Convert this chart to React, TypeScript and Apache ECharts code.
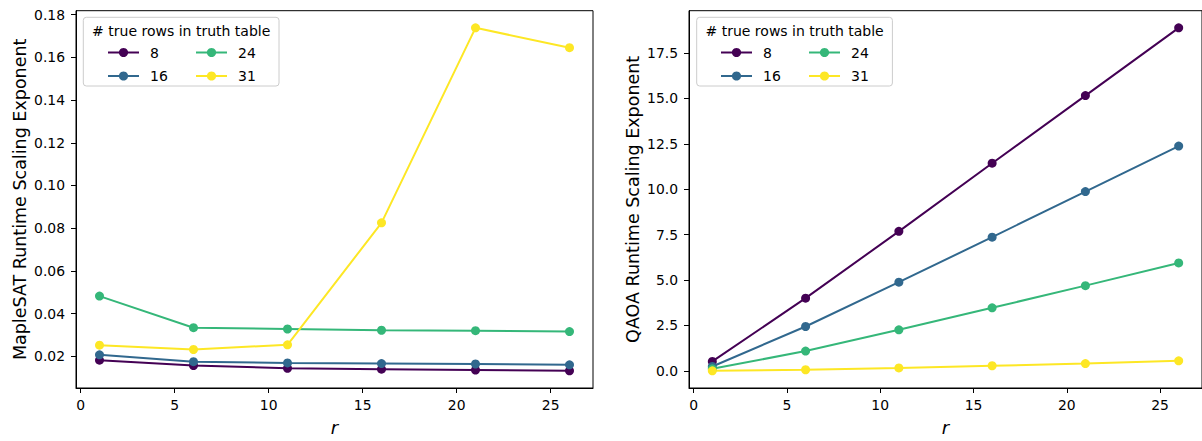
import React, { useEffect, useRef } from "react";
import * as echarts from "echarts";

const FONT = "DejaVu Sans";

const rValues = [1, 6, 11, 16, 21, 26];
const seriesNames = ["8", "16", "24", "31"];
const colors = ["#440154", "#31688e", "#35b779", "#fde725"];

const maple8 = [0.0182, 0.0157, 0.0144, 0.014, 0.0136, 0.0132];
const maple16 = [0.0207, 0.0175, 0.0169, 0.0166, 0.0164, 0.016];
const maple24 = [0.0482, 0.0334, 0.0328, 0.0322, 0.032, 0.0316];
const maple31 = [0.0252, 0.0232, 0.0254, 0.0825, 0.1738, 0.1645];

const qaoa8 = [0.52, 4.0, 7.68, 11.43, 15.15, 18.88];
const qaoa16 = [0.24, 2.44, 4.88, 7.36, 9.87, 12.37];
const qaoa24 = [0.11, 1.09, 2.26, 3.47, 4.69, 5.94];
const qaoa31 = [0.0, 0.06, 0.16, 0.28, 0.4, 0.55];

const xTicks = [0, 5, 10, 15, 20, 25];
const mapleTicks = [0.02, 0.04, 0.06, 0.08, 0.1, 0.12, 0.14, 0.16, 0.18];
const qaoaTicks = [0, 2.5, 5, 7.5, 10, 12.5, 15, 17.5];

const legendTitle = "# true rows in truth table";
const xName = "r";
const mapleName = "MapleSAT Runtime Scaling Exponent";
const qaoaName = "QAOA Runtime Scaling Exponent";

function padRange(vals: number[]): [number, number] {
  const lo = Math.min(...vals);
  const hi = Math.max(...vals);
  const m = (hi - lo) * 0.05;
  return [lo - m, hi + m];
}

export default function App() {
  const ref = useRef<HTMLDivElement>(null);
  useEffect(() => {
    if (!ref.current) return;
    const chart = echarts.init(ref.current, undefined, { renderer: "svg" });
    const mapleSets = [maple8, maple16, maple24, maple31];
    const qaoaSets = [qaoa8, qaoa16, qaoa24, qaoa31];
    const [xMin, xMax] = padRange(rValues);
    const [mMin, mMax] = padRange(mapleSets.flat());
    const [qMin, qMax] = padRange(qaoaSets.flat());

    const xAxisBase = (gridIndex: number) => ({
      type: "value",
      gridIndex,
      min: xMin,
      max: xMax,
      name: xName,
      nameLocation: "middle",
      nameGap: 30,
      nameTextStyle: { fontSize: 18, fontStyle: "italic", color: "#000", fontFamily: FONT },
      axisLine: { show: true, onZero: false, lineStyle: { color: "#000", width: 1 } },
      axisTick: { show: true, length: 5, inside: false, customValues: xTicks, lineStyle: { color: "#000", width: 1 } },
      axisLabel: { customValues: xTicks, margin: 10, fontSize: 13.9, color: "#000", fontFamily: FONT },
      splitLine: { show: false },
    });

    const yAxisBase = (gridIndex: number, min: number, max: number, ticks: number[], name: string, dec: number) => ({
      type: "value",
      gridIndex,
      min,
      max,
      name,
      nameLocation: "middle",
      nameGap: 47,
      nameTextStyle: { fontSize: 17.5, color: "#000", fontFamily: FONT },
      axisLine: { show: true, onZero: false, lineStyle: { color: "#000", width: 1 } },
      axisTick: { show: true, length: 5, inside: false, customValues: ticks, lineStyle: { color: "#000", width: 1 } },
      axisLabel: {
        customValues: ticks,
        margin: 11,
        fontSize: 13.9,
        color: "#000",
        fontFamily: FONT,
        formatter: (v: number) => v.toFixed(dec),
      },
      splitLine: { show: false },
    });

    const series: any[] = [];
    mapleSets.forEach((vals, i) => {
      series.push({
        type: "line",
        name: seriesNames[i],
        xAxisIndex: 0,
        yAxisIndex: 0,
        data: rValues.map((r, j) => [r, vals[j]]),
        symbol: "circle",
        symbolSize: 9,
        lineStyle: { color: colors[i], width: 2 },
        itemStyle: { color: colors[i] },
        emphasis: { disabled: true },
      });
    });
    qaoaSets.forEach((vals, i) => {
      series.push({
        type: "line",
        name: seriesNames[i],
        xAxisIndex: 1,
        yAxisIndex: 1,
        data: rValues.map((r, j) => [r, vals[j]]),
        symbol: "circle",
        symbolSize: 9,
        lineStyle: { color: colors[i], width: 2 },
        itemStyle: { color: colors[i] },
        emphasis: { disabled: true },
      });
    });

    const legendBase = {
      orient: "vertical",
      itemWidth: 31,
      itemHeight: 11.5,
      itemGap: 9.5,
      padding: 0,
      z: 20,
      selectedMode: false,
      textStyle: { fontSize: 14, color: "#000", fontFamily: FONT, padding: [0, 0, 0, 6], lineHeight: 11.5 },
    };

    const legendBox = (x: number) => [
      {
        type: "rect",
        z: 15,
        shape: { x, y: 17.3, width: 195.7, height: 68.7, r: 3 },
        style: { fill: "rgba(255,255,255,0.8)", stroke: "#cccccc", lineWidth: 1 },
      },
      {
        type: "text",
        z: 16,
        style: {
          text: legendTitle,
          x: x + 97.9,
          y: 30.5,
          align: "center",
          verticalAlign: "middle",
          fontSize: 14,
          fontFamily: FONT,
          fill: "#000",
        },
      },
    ];

    chart.setOption({
      animation: false,
      backgroundColor: "#fff",
      textStyle: { fontFamily: FONT },
      grid: [
        { left: 76, top: 10.7, width: 517, height: 385.3, show: true, borderColor: "#000", borderWidth: 1, containLabel: false },
        { left: 689, top: 10.7, width: 517, height: 385.3, show: true, borderColor: "#000", borderWidth: 1, containLabel: false },
      ],
      xAxis: [xAxisBase(0), xAxisBase(1)],
      yAxis: [
        yAxisBase(0, mMin, mMax, mapleTicks, mapleName, 2),
        yAxisBase(1, qMin, qMax, qaoaTicks, qaoaName, 1),
      ],
      legend: [
        { ...legendBase, left: 107, top: 45.5, data: ["8", "16"] },
        { ...legendBase, left: 195, top: 45.5, data: ["24", "31"] },
        { ...legendBase, left: 720, top: 45.5, data: ["8", "16"] },
        { ...legendBase, left: 808, top: 45.5, data: ["24", "31"] },
      ],
      graphic: [...legendBox(83.3), ...legendBox(696.7)],
      series,
    } as any);
    return () => chart.dispose();
  }, []);
  return (
    <div
      ref={ref}
      style={{ position: "fixed", left: 0, top: 0, width: 1202, height: 441, background: "#fff" }}
    />
  );
}
